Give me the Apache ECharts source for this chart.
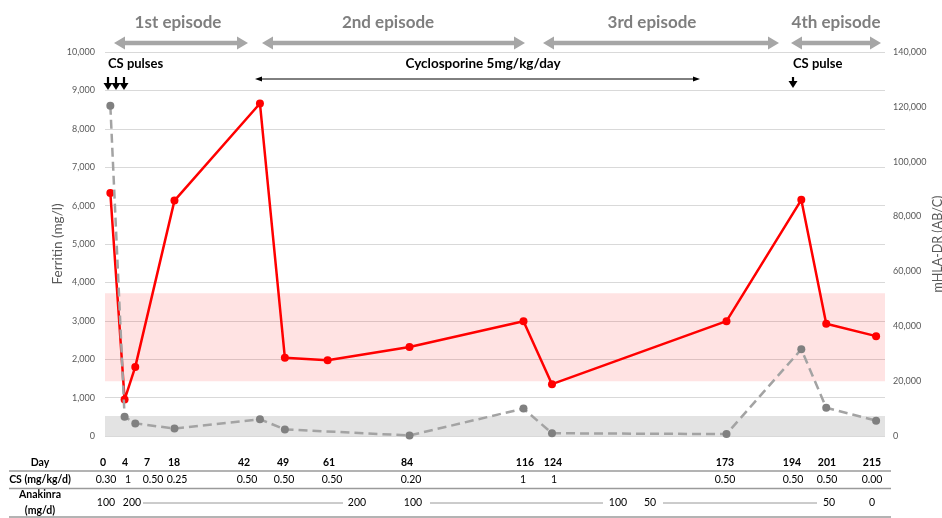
<!DOCTYPE html>
<html>
<head>
<meta charset="utf-8">
<script src="https://cdn.jsdelivr.net/npm/echarts@6/dist/echarts.min.js"></script>
<style>
html,body{margin:0;padding:0;background:#fff;overflow:hidden;}
#chart{width:942px;height:518px;display:block;}
</style>
</head>
<body>
<div id="chart"></div>
<script>
// ---- data ----
const days = [0, 4, 7, 18, 42, 49, 61, 84, 116, 124, 173, 194, 201, 215];
const ferritin = [6330, 950, 1800, 6130, 8660, 2040, 1970, 2320, 2990, 1350, 2990, 6150, 2925, 2600];
const mhlaDr = [120400, 7000, 4600, 2700, 6100, 2400, null, 200, 10000, 1000, 700, 31600, 10300, 5600];
const pinkBand = [20000, 52000];   // on mHLA-DR axis
const grayBand = [0, 7300];        // on mHLA-DR axis
const ferritinTicks = [0, 1000, 2000, 3000, 4000, 5000, 6000, 7000, 8000, 9000, 10000];
const mhlaTicks = [0, 20000, 40000, 60000, 80000, 100000, 120000, 140000];
const episodes = ['1st episode', '2nd episode', '3rd episode', '4th episode'];
const dayLabels = ['0', '4', '7', '18', '42', '49', '61', '84', '116', '124', '173', '194', '201', '215'];
const csDose = ['0.30', '1', '0.50', '0.25', '0.50', '0.50', '0.50', '0.20', '1', '1', '0.50', '0.50', '0.50', '0.00'];
const anakinra = ['100', '200', '200', '100', '100', '50', '50', '0'];

// ---- layout (pixels) ----
const dayColX = [103, 125, 147, 174, 244, 283, 329, 407, 525, 553, 725, 792, 827, 872];
const csColX  = [106, 128, 153, 177, 247, 284, 332, 411, 523, 554, 725, 793, 827, 872];
const anakX = [106, 132, 357, 413, 618, 650, 829, 872];
const anakLines = [[143, 343], [430, 603], [663, 817]];
const episodeText = [178, 388, 652, 836];
const episodeArrows = [[114, 248], [262, 525], [543, 779], [791, 881]];

const FONT = 'Lato, "Open Sans", sans-serif';
const fmt = v => v.toLocaleString('en-US');

const chart = echarts.init(document.getElementById('chart'), null, {renderer: 'canvas', width: 942, height: 518});

const g = [];
function hArrow(x1, x2, y, lw, hl, hw, color, both) {
  g.push({type: 'line', shape: {x1: both ? x1 + hl - 1 : x1, y1: y, x2: x2 - hl + 1, y2: y},
          style: {stroke: color, lineWidth: lw}, silent: true});
  g.push({type: 'polygon', shape: {points: [[x2, y], [x2 - hl, y - hw / 2], [x2 - hl, y + hw / 2]]},
          style: {fill: color}, silent: true});
  if (both) g.push({type: 'polygon', shape: {points: [[x1, y], [x1 + hl, y - hw / 2], [x1 + hl, y + hw / 2]]},
          style: {fill: color}, silent: true});
}
function dArrow(x, y1, y2, color) {
  g.push({type: 'line', shape: {x1: x, y1: y1, x2: x, y2: y2 - 6}, style: {stroke: color, lineWidth: 2.2}, silent: true});
  g.push({type: 'polygon', shape: {points: [[x - 4.5, y2 - 7], [x + 4.5, y2 - 7], [x, y2]]}, style: {fill: color}, silent: true});
}
function txt(x, y, s, opt) {
  g.push({type: 'text', x: x, y: y, silent: true, style: Object.assign({
    text: s, fill: '#000', font: '11px ' + FONT, textAlign: 'center', textVerticalAlign: 'middle'
  }, opt || {})});
}

// episodes
episodes.forEach((e, i) => {
  txt(episodeText[i], 23, e, {fill: '#7f7f7f', font: 'bold 17px ' + FONT});
  hArrow(episodeArrows[i][0], episodeArrows[i][1], 43, 4.5, 11, 13, '#a6a6a6', true);
});
// CS pulses
txt(108, 64, 'CS pulses', {textAlign: 'left', font: 'bold 13px ' + FONT});
[108, 116, 124].forEach(x => dArrow(x, 77, 90, '#000'));
txt(483, 64, 'Cyclosporine 5mg/kg/day', {font: 'bold 13.5px ' + FONT});
hArrow(255, 700, 79, 1, 7, 5, '#000', true);
txt(793, 64, 'CS pulse', {textAlign: 'left', font: 'bold 13px ' + FONT});
dArrow(793, 77, 88, '#000');

// table
const tRow1 = 463, tRow2 = 480, tRow3 = 503;
txt(40, tRow1, 'Day', {font: 'bold 10.5px ' + FONT});
txt(40, tRow2, 'CS (mg/kg/d)', {font: 'bold 10.5px ' + FONT});
txt(40, 495, 'Anakinra', {font: 'bold 10.5px ' + FONT});
txt(40, 511, '(mg/d)', {font: 'bold 10.5px ' + FONT});
dayLabels.forEach((d, i) => txt(dayColX[i], tRow1, d, {font: 'bold 10.5px ' + FONT}));
csDose.forEach((d, i) => txt(csColX[i], tRow2, d, {font: '10.5px ' + FONT}));
anakinra.forEach((d, i) => txt(anakX[i], tRow3, d, {font: '10.5px ' + FONT}));
anakLines.forEach(l => g.push({type: 'line', shape: {x1: l[0], y1: tRow3, x2: l[1], y2: tRow3},
  style: {stroke: '#7f7f7f', lineWidth: 0.8}, silent: true}));
[471, 488.5, 517].forEach(y => g.push({type: 'line', shape: {x1: 9, y1: y, x2: 891, y2: y},
  style: {stroke: '#9a9a9a', lineWidth: 1.3}, silent: true}));

const axisLabel = {color: '#595959', fontSize: 9, fontFamily: FONT, formatter: v => fmt(v)};

chart.setOption({
  animation: false,
  backgroundColor: '#fff',
  grid: {left: 105, right: 57, top: 52, bottom: 82, containLabel: false, outerBoundsMode: 'none'},
  xAxis: {type: 'value', min: -1.5, max: 217.5, show: false},
  yAxis: [{
    type: 'value', min: ferritinTicks[0], max: ferritinTicks[ferritinTicks.length - 1],
    interval: ferritinTicks[1] - ferritinTicks[0],
    name: 'Ferritin (mg/l)', nameLocation: 'middle', nameGap: 40, nameRotate: 90,
    nameMoveOverlap: false,
    nameTextStyle: {color: '#595959', fontSize: 13.5, fontFamily: FONT},
    axisLine: {show: false}, axisTick: {show: false},
    axisLabel: Object.assign({margin: 10}, axisLabel),
    splitLine: {lineStyle: {color: '#d9d9d9', width: 1}}
  }, {
    type: 'value', min: mhlaTicks[0], max: mhlaTicks[mhlaTicks.length - 1],
    interval: mhlaTicks[1] - mhlaTicks[0], position: 'right',
    name: 'mHLA-DR (AB/C)', nameLocation: 'middle', nameGap: 46, nameRotate: 90,
    nameMoveOverlap: false,
    nameTextStyle: {color: '#595959', fontSize: 12.5, fontFamily: FONT},
    axisLine: {show: false}, axisTick: {show: false},
    axisLabel: Object.assign({margin: 8}, axisLabel),
    splitLine: {show: false}
  }],
  series: [{
    name: 'Ferritin', type: 'line', yAxisIndex: 0,
    data: days.map((d, i) => [d, ferritin[i]]),
    symbol: 'circle', symbolSize: 8,
    itemStyle: {color: '#ff0000'},
    lineStyle: {color: '#ff0000', width: 2.5},
    z: 3
  }, {
    name: 'mHLA-DR', type: 'line', yAxisIndex: 1,
    data: days.map((d, i) => [d, mhlaDr[i]]),
    connectNulls: true,
    symbol: 'circle', symbolSize: 8,
    itemStyle: {color: '#808080'},
    lineStyle: {color: '#a3a3a3', width: 2.5, type: [9, 5]},
    z: 4,
    markArea: {
      silent: true,
      data: [
        [{yAxis: pinkBand[0], itemStyle: {color: 'rgba(255,0,0,0.11)'}}, {yAxis: pinkBand[1]}],
        [{yAxis: grayBand[0], itemStyle: {color: 'rgba(0,0,0,0.11)'}}, {yAxis: grayBand[1]}]
      ]
    }
  }],
  graphic: g
});
</script>
</body>
</html>
